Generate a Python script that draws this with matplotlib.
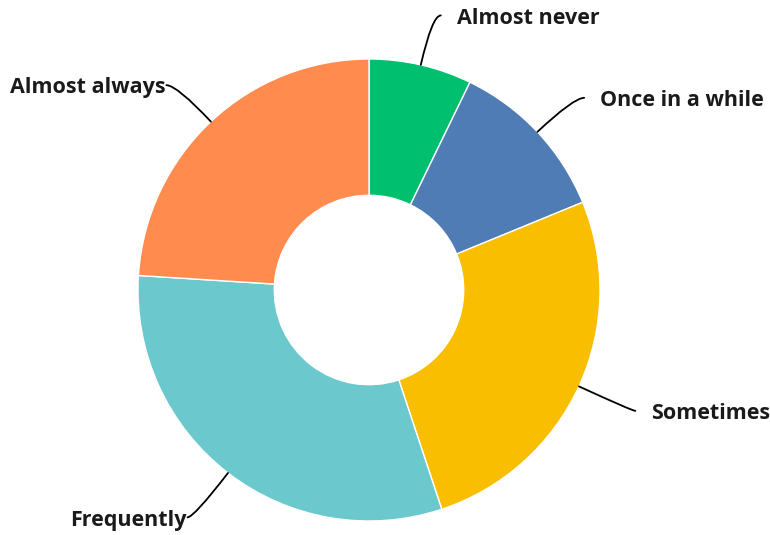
import numpy as np
import matplotlib
matplotlib.use('Agg')
import matplotlib.pyplot as plt

plt.rcParams['font.family'] = ['Open Sans', 'DejaVu Sans']

categories = ['Almost never', 'Once in a while', 'Sometimes', 'Frequently', 'Almost always']
values = [7.2, 11.6, 26.1, 31.1, 24.0]
colors = ['#00BF6F', '#507CB6', '#F9BE00', '#6BC8CD', '#FF8B4F']

fig = plt.figure(figsize=(7.7, 5.35), dpi=100)
ax = fig.add_axes([0, 0, 1, 1])

wedges, _ = ax.pie(values, colors=colors, startangle=90, counterclock=False,
                   radius=1.0,
                   wedgeprops=dict(width=0.59, edgecolor='white', linewidth=1))

# leader lines + labels
for w, lab in zip(wedges, categories):
    ang = np.deg2rad((w.theta1 + w.theta2) / 2)
    c, s = np.cos(ang), np.sin(ang)
    side = 1 if c >= 0 else -1
    x0, y0 = 1.0 * c, 1.0 * s
    xe, ye = 1.23 * c + side * 0.035, 1.23 * s - 0.01
    ax.annotate('', xy=(x0, y0), xytext=(xe, ye),
                arrowprops=dict(arrowstyle='-', color='black', lw=1.3,
                                shrinkA=0, shrinkB=0,
                                connectionstyle='angle3,angleA=0,angleB=%f' % np.rad2deg(ang)))
    gap = 0.07 if side > 0 else 0.005
    ax.text(xe + side * gap, ye - 0.012, lab, ha='left' if side > 0 else 'right',
            va='center', fontsize=15.5, fontweight='bold', color='#1a1a1a')

ax.set_xlim(-369 / 231, 401 / 231)
ax.set_ylim(-245 / 231, 290 / 231)
ax.set_aspect('auto')
ax.axis('off')

fig.savefig('out.png', dpi=100)
